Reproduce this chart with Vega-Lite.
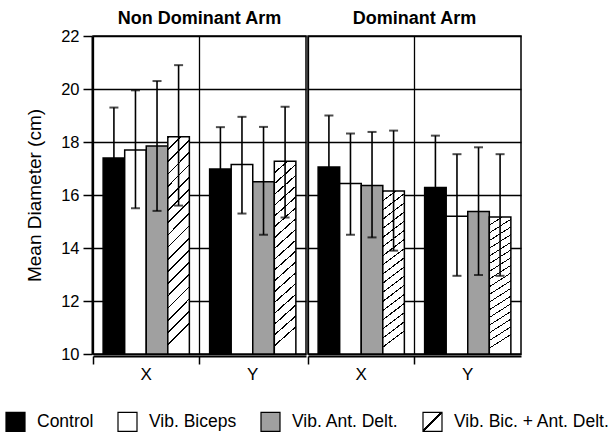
{
  "$schema": "https://vega.github.io/schema/vega-lite/v6.json",
  "background": "white",
  "padding": {"left": 5, "top": 10, "right": 5, "bottom": 5},
  "data": {
    "values": [
      {"arm": "Non Dominant Arm", "dir": "X", "treatment": "Control", "mean": 17.4, "lo": 15.5, "hi": 19.3},
      {"arm": "Non Dominant Arm", "dir": "X", "treatment": "Vib. Biceps", "mean": 17.7, "lo": 15.5, "hi": 19.95},
      {"arm": "Non Dominant Arm", "dir": "X", "treatment": "Vib. Ant. Delt.", "mean": 17.85, "lo": 15.4, "hi": 20.3},
      {"arm": "Non Dominant Arm", "dir": "X", "treatment": "Vib. Bic. + Ant. Delt.", "mean": 18.2, "lo": 15.6, "hi": 20.9},
      {"arm": "Non Dominant Arm", "dir": "Y", "treatment": "Control", "mean": 16.98, "lo": 15.4, "hi": 18.56},
      {"arm": "Non Dominant Arm", "dir": "Y", "treatment": "Vib. Biceps", "mean": 17.15, "lo": 15.3, "hi": 18.95},
      {"arm": "Non Dominant Arm", "dir": "Y", "treatment": "Vib. Ant. Delt.", "mean": 16.5, "lo": 14.5, "hi": 18.57},
      {"arm": "Non Dominant Arm", "dir": "Y", "treatment": "Vib. Bic. + Ant. Delt.", "mean": 17.27, "lo": 15.15, "hi": 19.33},
      {"arm": "Dominant Arm", "dir": "X", "treatment": "Control", "mean": 17.06, "lo": 15.1, "hi": 19.0},
      {"arm": "Dominant Arm", "dir": "X", "treatment": "Vib. Biceps", "mean": 16.43, "lo": 14.5, "hi": 18.32},
      {"arm": "Dominant Arm", "dir": "X", "treatment": "Vib. Ant. Delt.", "mean": 16.36, "lo": 14.4, "hi": 18.38},
      {"arm": "Dominant Arm", "dir": "X", "treatment": "Vib. Bic. + Ant. Delt.", "mean": 16.15, "lo": 13.9, "hi": 18.43},
      {"arm": "Dominant Arm", "dir": "Y", "treatment": "Control", "mean": 16.28, "lo": 14.3, "hi": 18.24},
      {"arm": "Dominant Arm", "dir": "Y", "treatment": "Vib. Biceps", "mean": 15.2, "lo": 12.95, "hi": 17.54},
      {"arm": "Dominant Arm", "dir": "Y", "treatment": "Vib. Ant. Delt.", "mean": 15.38, "lo": 12.98, "hi": 17.8},
      {"arm": "Dominant Arm", "dir": "Y", "treatment": "Vib. Bic. + Ant. Delt.", "mean": 15.17, "lo": 12.95, "hi": 17.54}
    ]
  },
  "facet": {
    "column": {
      "field": "arm",
      "type": "nominal",
      "sort": ["Non Dominant Arm", "Dominant Arm"],
      "title": null,
      "header": {"labelFontSize": 18, "labelFontWeight": "bold", "labelFont": "Liberation Sans", "labelColor": "black", "labelPadding": 7}
    }
  },
  "spacing": 0,
  "spec": {
    "width": 213,
    "height": 318,
    "encoding": {
      "x": {
        "field": "dir",
        "type": "nominal",
        "title": null,
        "scale": {"paddingInner": 0, "paddingOuter": 0},
        "axis": {
          "bandPosition": 0,
          "labelAngle": 0,
          "labelFontSize": 17,
          "labelColor": "black",
          "labelPadding": 2,
          "tickSize": 8,
          "tickColor": "black",
          "tickWidth": 1.5,
          "domainColor": "black",
          "domainWidth": 2,
          "grid": true,
          "gridColor": "black",
          "gridWidth": 1.3,
          "gridOpacity": 1
        }
      },
      "xOffset": {
        "field": "treatment",
        "type": "nominal",
        "sort": ["Control", "Vib. Biceps", "Vib. Ant. Delt.", "Vib. Bic. + Ant. Delt."],
        "scale": {"paddingInner": 0, "paddingOuter": 0.47}
      }
    },
    "layer": [
      {
        "mark": {"type": "bar", "stroke": "black", "strokeWidth": 1.5, "width": {"band": 1}},
        "encoding": {
          "y": {
            "field": "mean",
            "type": "quantitative",
            "title": "Mean Diameter (cm)",
            "scale": {"domain": [10, 22], "nice": false, "zero": false},
            "axis": {
              "values": [10, 10.5, 11, 11.5, 12, 12.5, 13, 13.5, 14, 14.5, 15, 15.5, 16, 16.5, 17, 17.5, 18, 18.5, 19, 19.5, 20, 20.5, 21, 21.5, 22],
              "labelExpr": "datum.value % 2 === 0 ? datum.label : ''",
              "labelFontSize": 16.5,
              "labelColor": "black",
              "labelPadding": 4,
              "tickSize": {"condition": {"test": "datum.value % 2 === 0", "value": 9}, "value": 5},
              "tickColor": "black",
              "tickWidth": 1.5,
              "domainColor": "black",
              "domainWidth": 2,
              "grid": true,
              "gridColor": "black",
              "gridWidth": 1.3,
              "gridOpacity": {"condition": {"test": "datum.value % 2 === 0", "value": 1}, "value": 0},
              "titleFontSize": 19,
              "titleFontWeight": "normal",
              "titleColor": "black",
              "titlePadding": 16
            }
          },
          "y2": {"datum": 10},
          "fill": {
            "condition": {
              "test": "datum.treatment === 'Vib. Bic. + Ant. Delt.'",
              "value": {
                "gradient": "linear", "x1": 0, "y1": 0, "x2": 0.1, "y2": 1,
                "stops": [
                  {"offset": 0, "color": "#000"}, {"offset": 0.008, "color": "#000"}, {"offset": 0.008, "color": "#fff"}, {"offset": 0.0556, "color": "#fff"},
                  {"offset": 0.0556, "color": "#000"}, {"offset": 0.0636, "color": "#000"}, {"offset": 0.0636, "color": "#fff"}, {"offset": 0.1111, "color": "#fff"},
                  {"offset": 0.1111, "color": "#000"}, {"offset": 0.1191, "color": "#000"}, {"offset": 0.1191, "color": "#fff"}, {"offset": 0.1667, "color": "#fff"},
                  {"offset": 0.1667, "color": "#000"}, {"offset": 0.1747, "color": "#000"}, {"offset": 0.1747, "color": "#fff"}, {"offset": 0.2222, "color": "#fff"},
                  {"offset": 0.2222, "color": "#000"}, {"offset": 0.2302, "color": "#000"}, {"offset": 0.2302, "color": "#fff"}, {"offset": 0.2778, "color": "#fff"},
                  {"offset": 0.2778, "color": "#000"}, {"offset": 0.2858, "color": "#000"}, {"offset": 0.2858, "color": "#fff"}, {"offset": 0.3333, "color": "#fff"},
                  {"offset": 0.3333, "color": "#000"}, {"offset": 0.3413, "color": "#000"}, {"offset": 0.3413, "color": "#fff"}, {"offset": 0.3889, "color": "#fff"},
                  {"offset": 0.3889, "color": "#000"}, {"offset": 0.3969, "color": "#000"}, {"offset": 0.3969, "color": "#fff"}, {"offset": 0.4444, "color": "#fff"},
                  {"offset": 0.4444, "color": "#000"}, {"offset": 0.4524, "color": "#000"}, {"offset": 0.4524, "color": "#fff"}, {"offset": 0.5, "color": "#fff"},
                  {"offset": 0.5, "color": "#000"}, {"offset": 0.508, "color": "#000"}, {"offset": 0.508, "color": "#fff"}, {"offset": 0.5556, "color": "#fff"},
                  {"offset": 0.5556, "color": "#000"}, {"offset": 0.5636, "color": "#000"}, {"offset": 0.5636, "color": "#fff"}, {"offset": 0.6111, "color": "#fff"},
                  {"offset": 0.6111, "color": "#000"}, {"offset": 0.6191, "color": "#000"}, {"offset": 0.6191, "color": "#fff"}, {"offset": 0.6667, "color": "#fff"},
                  {"offset": 0.6667, "color": "#000"}, {"offset": 0.6747, "color": "#000"}, {"offset": 0.6747, "color": "#fff"}, {"offset": 0.7222, "color": "#fff"},
                  {"offset": 0.7222, "color": "#000"}, {"offset": 0.7302, "color": "#000"}, {"offset": 0.7302, "color": "#fff"}, {"offset": 0.7778, "color": "#fff"},
                  {"offset": 0.7778, "color": "#000"}, {"offset": 0.7858, "color": "#000"}, {"offset": 0.7858, "color": "#fff"}, {"offset": 0.8333, "color": "#fff"},
                  {"offset": 0.8333, "color": "#000"}, {"offset": 0.8413, "color": "#000"}, {"offset": 0.8413, "color": "#fff"}, {"offset": 0.8889, "color": "#fff"},
                  {"offset": 0.8889, "color": "#000"}, {"offset": 0.8969, "color": "#000"}, {"offset": 0.8969, "color": "#fff"}, {"offset": 0.9444, "color": "#fff"},
                  {"offset": 0.9444, "color": "#000"}, {"offset": 0.9524, "color": "#000"}, {"offset": 0.9524, "color": "#fff"}, {"offset": 1, "color": "#fff"}
                ]
              }
            },
            "field": "treatment",
            "type": "nominal",
            "scale": {
              "domain": ["Control", "Vib. Biceps", "Vib. Ant. Delt.", "Vib. Bic. + Ant. Delt."],
              "range": [
                "#000000",
                "#ffffff",
                "#a0a0a0",
                {"expr": "{gradient: 'linear', x1: 0, y1: 0, x2: 1, y2: 1, stops: [{offset: 0, color: '#fff'}, {offset: 0.46, color: '#fff'}, {offset: 0.46, color: '#000'}, {offset: 0.54, color: '#000'}, {offset: 0.54, color: '#fff'}, {offset: 1, color: '#fff'}]}"}
              ]
            },
            "legend": {
              "title": null,
              "orient": "none",
              "legendX": -88,
              "legendY": 375,
              "direction": "horizontal",
              "symbolType": "square",
              "symbolSize": 361,
              "symbolStrokeColor": "black",
              "symbolStrokeWidth": 1.2,
              "symbolOpacity": 1,
              "labelFontSize": 17.5,
              "labelColor": "black",
              "labelOffset": 11,
              "columnPadding": 21
            }
          }
        }
      },
      {
        "mark": {"type": "rule", "color": "black", "strokeWidth": 1.6},
        "encoding": {
          "y": {"field": "lo", "type": "quantitative"},
          "y2": {"field": "hi"}
        }
      },
      {
        "mark": {"type": "tick", "color": "black", "thickness": 2, "size": 9, "orient": "horizontal"},
        "encoding": {"y": {"field": "hi", "type": "quantitative"}}
      },
      {
        "mark": {"type": "tick", "color": "black", "thickness": 2, "size": 9, "orient": "horizontal"},
        "encoding": {"y": {"field": "lo", "type": "quantitative"}}
      }
    ]
  },
  "config": {
    "font": "Liberation Sans",
    "view": {"stroke": "black", "strokeWidth": 1.5},
    "axis": {"labelFont": "Liberation Sans", "titleFont": "Liberation Sans"},
    "legend": {"labelFont": "Liberation Sans"}
  }
}
